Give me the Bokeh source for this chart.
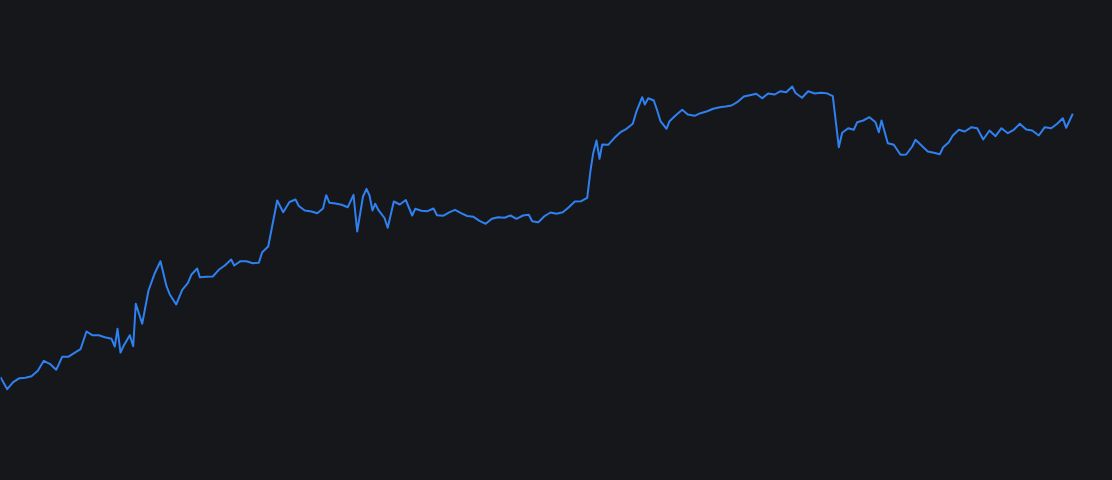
import numpy as np

from bokeh.embed import file_html
from bokeh.models import Range1d
from bokeh.plotting import figure
from bokeh.resources import INLINE

BG = "#16171b"
LINE = "#2f80f0"

# time (minutes) and value
t = [
    0, 6.7, 12.7, 19, 25, 31, 37.3, 43.3, 49.3, 55.7, 61.7, 67.7, 74, 80, 86,
    91.7, 98.3, 104.3, 111, 114.3, 117, 120, 123.3, 129.3, 132.7, 135.3, 141.7,
    148, 154, 160, 166, 169.3, 175.7, 181.7, 187.3, 191, 196.7, 199.3, 206,
    212.3, 218.3, 224.3, 230.7, 233.7, 240, 246, 252.3, 258.3, 261.7, 267.7,
    276.7, 282.7, 289, 295, 298.3, 304.3, 311, 316.7, 322.5, 325.7, 329, 335,
    341, 347.3, 353, 356.7, 362.5, 366, 369, 372, 374.7, 378, 384, 387.2,
    393.3, 399.3, 405.3, 411.7, 414.7, 421, 427, 433, 436.5, 442.5, 448.7,
    454.5, 460.5, 466.7, 473, 479, 485.2, 491.3, 497.7, 504, 510, 516, 522.5,
    528.3, 531.7, 537.8, 544.2, 550, 556, 562.3, 568.3, 574.3, 580.7, 586.7,
    590, 592.7, 596, 599, 601.7, 607.7, 614, 620, 626, 632.3, 635.7, 641.7,
    644.3, 647.7, 653.3, 656.7, 660, 666, 669, 675, 681.7, 687.3, 694, 700,
    706.7, 712.7, 719.3, 725, 731, 736.7, 743.3, 749.3, 755.7, 761.7, 767.7,
    774.3, 780, 785.7, 791.7, 795, 801.5, 807.7, 814.3, 820, 826, 832.3,
    838.3, 841.7, 847.7, 853.3, 856.7, 862.7, 869, 875, 878.3, 881, 887.3,
    893.3, 900, 905.7, 911.7, 915, 921, 927.3, 933.3, 939.3, 942.7, 948.3,
    952.3, 958.3, 964.3, 971, 976.7, 982.7, 989, 995, 1001, 1007.3, 1013.3,
    1019.3, 1025.7, 1031.7, 1038.3, 1044.3, 1050.7, 1056.7, 1062.3, 1065.7,
    1072.3,
]

level = [
    376.7, 388.7, 381.7, 377.7, 377.3, 375.7, 370.3, 360.3, 363.3, 369.3,
    356.3, 356.3, 352.3, 348.7, 331, 334.7, 334.7, 336.7, 338.3, 346, 328.3,
    352, 345, 334.7, 345.7, 303.3, 323.3, 290, 273.3, 260.7, 285.7, 294, 304,
    289.3, 282.7, 274, 268, 276.7, 276.3, 276, 269.3, 265, 259, 265, 260.7,
    260.7, 262.7, 262.3, 251.7, 246, 200, 211.7, 201.5, 199, 205.5, 210, 211,
    212.7, 208, 194.7, 202.3, 203, 204.3, 206.7, 194.3, 231, 196, 188.3, 195,
    210, 203.3, 209.7, 217.5, 227.3, 201, 204, 199.5, 215, 208.3, 210.3,
    210.7, 208, 214.7, 215.3, 211.8, 209.3, 212.7, 215.5, 216.3, 220.3, 223.3,
    218.3, 216.7, 217.3, 215, 218.3, 215, 214.3, 220.8, 221.7, 215.5, 212,
    213.3, 211.7, 206.7, 201, 200.7, 197.3, 170, 152.7, 140, 158.3, 144,
    144.3, 137.3, 131.7, 128.3, 123.3, 111.7, 96.7, 104, 97.7, 100, 110,
    120.7, 128.3, 120.7, 115, 109.3, 114, 115.3, 112.7, 110.7, 108.3, 106.7,
    106, 105, 101.7, 96, 94.7, 93.3, 97.7, 93, 94, 90.7, 91.7, 86, 92.5,
    97.3, 90.7, 93, 92.3, 92.7, 95.7, 146.7, 132.3, 127.7, 129.3, 121.7, 120,
    116.7, 121.7, 131.7, 120, 142.7, 144.3, 154.3, 154, 146, 139.3, 145, 151,
    152.3, 153.7, 146.7, 141.7, 135, 129.3, 131, 126.7, 127.7, 139, 130,
    135.7, 127.7, 132.7, 129.3, 123.3, 129, 130, 135, 126.7, 127.7, 123.3,
    117.7, 127.3, 113.3,
]

# chart values rise upward
value = 480 - np.array(level)

p = figure(width=1112, height=480, output_backend="svg", toolbar_location=None,
           x_axis_type=None, y_axis_type=None,
           x_range=Range1d(0, 1112), y_range=Range1d(0, 480),
           min_border=0, outline_line_color=None,
           background_fill_color=BG, border_fill_color=BG)
p.xgrid.grid_line_color = None
p.ygrid.grid_line_color = None

p.line(t, value, line_color=LINE, line_width=2, line_join="round")

# dark page behind the plot so no light edge shows
page_style = "{% block preamble %}<style>html, body { background: " + BG + "; }</style>{% endblock %}"
open("out.html", "w").write(file_html(p, INLINE, template=page_style))
